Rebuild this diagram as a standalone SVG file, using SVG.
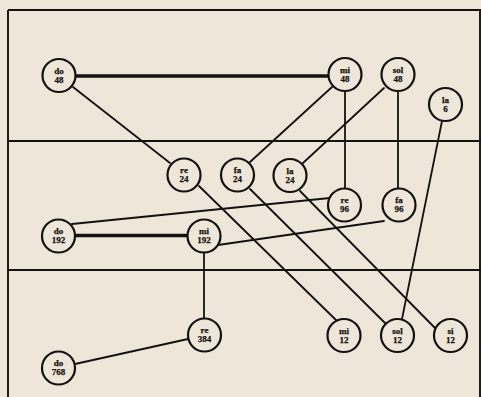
<svg xmlns="http://www.w3.org/2000/svg" width="481" height="397" viewBox="0 0 481 397">
<style>
.frame{stroke:#141210;stroke-width:1.9;fill:none}
.e{stroke:#141210;stroke-width:1.8;fill:none;stroke-linecap:round}
.thick{stroke:#141210;stroke-width:3.4;fill:none}
.n circle{fill:#efe6da;stroke:#141210;stroke-width:2.2}
.n text{font-family:"Liberation Serif","DejaVu Serif",serif;font-weight:bold;font-size:9px;fill:#141210;stroke:#141210;stroke-width:0.25;text-anchor:middle}
</style>
<rect x="0" y="0" width="481" height="397" fill="#efe6da"/>
<g id="frame">
<line class="frame" x1="8" y1="10" x2="481" y2="10"/>
<line class="frame" x1="8" y1="10" x2="8" y2="397"/>
<line class="frame" x1="480" y1="10" x2="480" y2="397"/>
<line class="frame" x1="8" y1="141" x2="481" y2="141"/>
<line class="frame" x1="8" y1="270" x2="481" y2="270"/>
</g>
<g id="connectors">
<line class="thick" x1="75" y1="76" x2="328" y2="76"/>
<line class="thick" x1="75" y1="235.5" x2="187" y2="235.5"/>
<line class="e" x1="73" y1="87" x2="170" y2="163"/>
<line class="e" x1="332" y1="87" x2="250" y2="162"/>
<line class="e" x1="345" y1="91" x2="345" y2="188"/>
<line class="e" x1="384" y1="88" x2="303" y2="163"/>
<line class="e" x1="398" y1="91" x2="398" y2="188"/>
<line class="e" x1="442" y1="121" x2="402" y2="319"/>
<line class="e" x1="199" y1="186" x2="337" y2="321"/>
<line class="e" x1="250" y1="189" x2="385" y2="323"/>
<line class="e" x1="300" y1="191" x2="435" y2="328"/>
<line class="e" x1="72" y1="224" x2="330" y2="198"/>
<line class="e" x1="218" y1="245" x2="384" y2="221"/>
<line class="e" x1="204" y1="253" x2="204" y2="318"/>
<line class="e" x1="188" y1="339" x2="75" y2="364"/>
</g>
<g id="do48" class="n"><circle cx="59" cy="75.5" r="16.5"/><text x="59" y="73.5">do</text><text x="59" y="82.5">48</text></g>
<g id="mi48" class="n"><circle cx="345" cy="74.5" r="16.5"/><text x="345" y="72.5">mi</text><text x="345" y="81.5">48</text></g>
<g id="sol48" class="n"><circle cx="398" cy="74.5" r="16.5"/><text x="398" y="72.5">sol</text><text x="398" y="81.5">48</text></g>
<g id="la6" class="n"><circle cx="445.5" cy="104.5" r="16.5"/><text x="445.5" y="102.5">la</text><text x="445.5" y="111.5">6</text></g>
<g id="re24" class="n"><circle cx="184" cy="175" r="16.5"/><text x="184" y="173">re</text><text x="184" y="182">24</text></g>
<g id="fa24" class="n"><circle cx="237.5" cy="175" r="16.5"/><text x="237.5" y="173">fa</text><text x="237.5" y="182">24</text></g>
<g id="la24" class="n"><circle cx="290" cy="175.5" r="16.5"/><text x="290" y="173.5">la</text><text x="290" y="182.5">24</text></g>
<g id="re96" class="n"><circle cx="344.5" cy="205" r="16.5"/><text x="344.5" y="203">re</text><text x="344.5" y="212">96</text></g>
<g id="fa96" class="n"><circle cx="399" cy="205" r="16.5"/><text x="399" y="203">fa</text><text x="399" y="212">96</text></g>
<g id="do192" class="n"><circle cx="58.5" cy="236" r="16.5"/><text x="58.5" y="234">do</text><text x="58.5" y="243">192</text></g>
<g id="mi192" class="n"><circle cx="204" cy="236" r="16.5"/><text x="204" y="234">mi</text><text x="204" y="243">192</text></g>
<g id="re384" class="n"><circle cx="204.5" cy="335" r="16.5"/><text x="204.5" y="333">re</text><text x="204.5" y="342">384</text></g>
<g id="do768" class="n"><circle cx="58.5" cy="368" r="16.5"/><text x="58.5" y="366">do</text><text x="58.5" y="375">768</text></g>
<g id="mi12" class="n"><circle cx="344" cy="335.5" r="16.5"/><text x="344" y="333.5">mi</text><text x="344" y="342.5">12</text></g>
<g id="sol12" class="n"><circle cx="397.5" cy="335.5" r="16.5"/><text x="397.5" y="333.5">sol</text><text x="397.5" y="342.5">12</text></g>
<g id="si12" class="n"><circle cx="450.5" cy="335.5" r="16.5"/><text x="450.5" y="333.5">si</text><text x="450.5" y="342.5">12</text></g>
</svg>
